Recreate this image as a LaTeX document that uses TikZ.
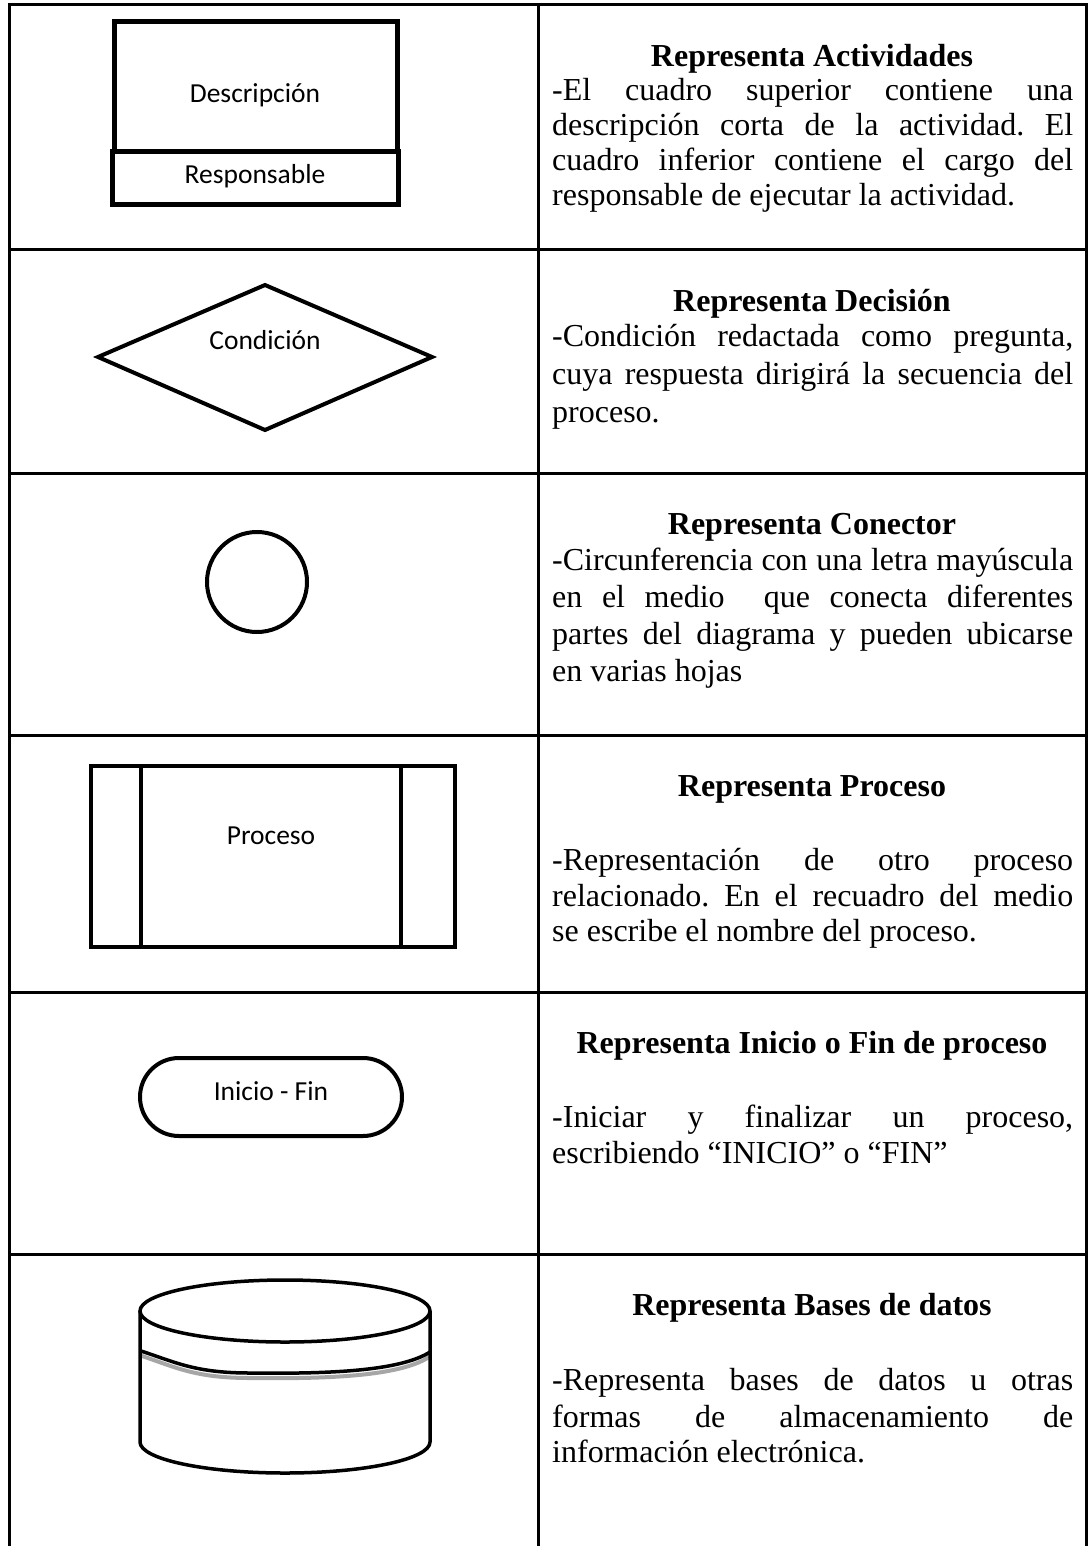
\documentclass[tikz,border=0pt]{standalone}
\usepackage{fontspec}
\setmainfont{Liberation Serif}
\newfontfamily\labelfont{Carlito}
\frenchspacing
% one justified line of the description column
\newcommand\jline[1]{\makebox[521pt][s]{#1}}
\begin{document}
\begin{tikzpicture}[x=1pt,y=-1pt,
  grid/.style={line width=3pt, line join=miter},
  symb/.style={line width=4.5pt, line join=miter},
  title/.style={font=\fontsize{32}{36}\selectfont\bfseries, anchor=mid, inner sep=0pt},
  body/.style={font=\fontsize{32}{36}\selectfont, anchor=mid west, inner sep=0pt},
  lbl/.style={font=\labelfont\fontsize{27.5}{33}\selectfont, anchor=mid, inner sep=0pt}]
\useasboundingbox (0,0) rectangle (1091,1546);
\fill[white] (0,0) rectangle (1091,1546);

% table frame and rules
\draw[grid] (9,1546) -- (9,5) -- (1086,5) -- (1086,1546);
\draw[grid] (538,5) -- (538,1546);
\foreach \y in {250,473,735,992,1254} \draw[grid] (9,\y) -- (1086,\y);

% ---- row 1: activity box
\draw[symb, line width=5pt] (114,22) rectangle (397,152);
\draw[symb, line width=5pt] (112,152) rectangle (398,205);
\node[lbl] (desc) at (255,100) {Descripción};
\node[lbl] (resp) at (255,181) {Responsable};
\node[title] (t1) at (812,64) {Representa Actividades};
\node[body] (b1a) at (552,98)  {\jline{-El cuadro superior contiene una}};
\node[body] (b1b) at (552,133) {\jline{descripción corta de la actividad. El}};
\node[body] (b1c) at (552,168) {\jline{cuadro inferior contiene el cargo del}};
\node[body] (b1d) at (552,203) {responsable de ejecutar la actividad.};

% ---- row 2: decision
\draw[symb, line width=4pt] (98,357) -- (265,285) -- (432,357) -- (265,430) -- cycle;
\node[lbl] (cond) at (265,347) {Condición};
\node[title] (t2) at (812,309) {Representa Decisión};
\node[body] (b2a) at (552,344) {\jline{-Condición redactada como pregunta,}};
\node[body] (b2b) at (552,382) {\jline{cuya respuesta dirigirá la secuencia del}};
\node[body] (b2c) at (552,420) {proceso.};

% ---- row 3: connector
\draw[symb, line width=4pt] (257,582) circle [radius=50];
\node[title] (t3) at (812,532) {Representa Conector};
\node[body] (b3a) at (552,568) {\jline{-Circunferencia con una letra mayúscula}};
\node[body] (b3b) at (552,605) {\jline{en el medio\ \ que conecta diferentes}};
\node[body] (b3c) at (552,642) {\jline{partes del diagrama y pueden ubicarse}};
\node[body] (b3d) at (552,679) {en varias hojas};

% ---- row 4: predefined process
\draw[symb] (91,766) rectangle (455,947);
\draw[symb] (141,766) -- (141,947);
\draw[symb] (401,766) -- (401,947);
\node[lbl] (proc) at (271,842) {Proceso};
\node[title] (t4) at (812,794) {Representa Proceso};
\node[body] (b4a) at (552,868) {\jline{-Representación de otro proceso}};
\node[body] (b4b) at (552,904) {\jline{relacionado. En el recuadro del medio}};
\node[body] (b4c) at (552,939) {se escribe el nombre del proceso.};

% ---- row 5: terminator
\draw[symb, line width=4pt, rounded corners=39pt] (140,1058) rectangle (402,1136);
\node[lbl] (term) at (271,1098) {Inicio - Fin};
\node[title] (t5) at (812,1051) {Representa Inicio o Fin de proceso};
\node[body] (b5a) at (552,1125) {\jline{-Iniciar y finalizar un proceso,}};
\node[body] (b5b) at (552,1161) {escribiendo “INICIO” o “FIN”};

% ---- row 6: database cylinder
\draw[gray!70, line width=4pt, line cap=round]
  (142,1356) .. controls (175,1367) and (195,1378) .. (250,1378)
  .. controls (330,1379) and (400,1376) .. (429,1357);
\draw[line width=3.5pt, line cap=round]
  (141,1351) .. controls (175,1362) and (195,1373) .. (250,1373)
  .. controls (330,1374) and (400,1371) .. (430,1352);
\draw[line width=3.5pt] (285,1311) ellipse [x radius=145, y radius=31];
\draw[line width=3.5pt, line join=round]
  (140,1311) -- (140,1442) arc[start angle=180, end angle=0, x radius=145, y radius=31]
  -- (430,1311);
\node[title] (t6) at (812,1313) {Representa Bases de datos};
\node[body] (b6a) at (552,1388) {\jline{-Representa bases de datos u otras}};
\node[body] (b6b) at (552,1425) {\jline{formas de almacenamiento de}};
\node[body] (b6c) at (552,1460) {información electrónica.};
\end{tikzpicture}
\end{document}
